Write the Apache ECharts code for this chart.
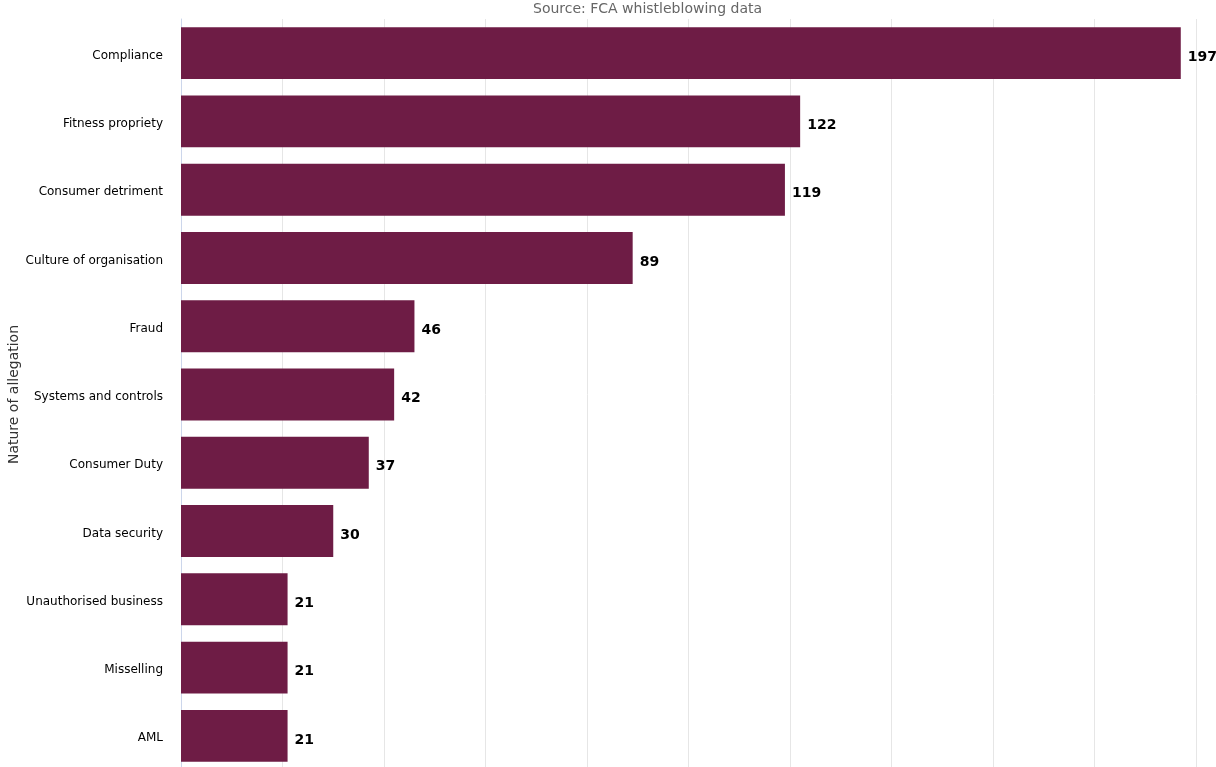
<!DOCTYPE html>
<html>
<head>
<meta charset="utf-8">
<script src="https://cdn.jsdelivr.net/npm/echarts@6/dist/echarts.min.js"></script>
<style>
  html, body { margin: 0; padding: 0; overflow: hidden; background: #fff; }
  #chart { width: 1216px; height: 775px; }
</style>
</head>
<body>
<div id="chart"></div>
<script>
// allegation categories, top to bottom
const categories = ['Compliance', 'Fitness propriety', 'Consumer detriment', 'Culture of organisation',
  'Fraud', 'Systems and controls', 'Consumer Duty', 'Data security',
  'Unauthorised business', 'Misselling', 'AML'];
const counts = [197, 122, 119, 89, 46, 42, 37, 30, 21, 21, 21];

let myChart = echarts.init(document.getElementById('chart'));
var option = {
  animation: false,
  title: {
    text: 'Source: FCA whistleblowing data',
    left: 528,
    top: -3,
    textStyle: { color: '#666666', fontSize: 14, fontWeight: 'normal', fontFamily: 'DejaVu Sans' }
  },
  grid: { left: 181, right: 20, top: 19, bottom: 5, outerBoundsMode: 'none', containLabel: false },
  xAxis: {
    type: 'value',
    min: 0,
    max: 200,
    interval: 20,
    axisLabel: { show: false },
    axisLine: { show: false },
    axisTick: { show: false },
    splitLine: { lineStyle: { color: '#e6e6e6', width: 1 } }
  },
  yAxis: {
    type: 'category',
    inverse: true,
    data: categories,
    name: 'Nature of allegation',
    nameLocation: 'middle',
    nameGap: 160,
    nameMoveOverlap: false,
    nameTextStyle: { color: '#333333', fontSize: 14, fontFamily: 'DejaVu Sans' },
    axisLine: { lineStyle: { color: '#ccd6eb' } },
    axisTick: { length: 11, lineStyle: { color: '#ccd6eb' } },
    axisLabel: { margin: 18, color: '#000000', fontSize: 12, fontFamily: 'DejaVu Sans', verticalAlign: 'top', lineHeight: 5 }
  },
  series: [{
    type: 'bar',
    data: counts,
    barCategoryGap: '24%',
    itemStyle: { color: '#6e1c45' },
    label: {
      show: true,
      position: 'right',
      distance: 7,
      offset: [0, 4],
      color: '#000000',
      fontSize: 14,
      fontWeight: 'bold',
      fontFamily: 'DejaVu Sans'
    }
  }]
};
myChart.setOption(option);
</script>
</body>
</html>
